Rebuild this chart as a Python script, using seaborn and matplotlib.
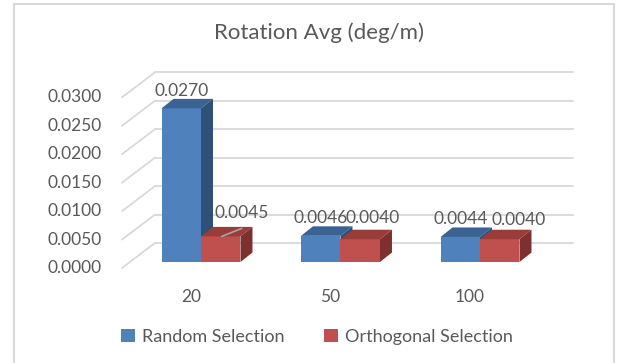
import numpy as np
import pandas as pd
import matplotlib
matplotlib.use("Agg")
import matplotlib.pyplot as plt
from matplotlib.patches import Polygon, Patch
import seaborn as sns

# ---- data ----
categories = ["20", "50", "100"]
series = ["Random Selection", "Orthogonal Selection"]
random_sel = [0.0270, 0.0046, 0.0044]
orthogonal_sel = [0.0045, 0.0040, 0.0040]
label_texts_random = ["0.0270", "0.0046", "0.0044"]
label_texts_orth = ["0.0045", "0.0040", "0.0040"]
y_ticks = [0.0, 0.005, 0.010, 0.015, 0.020, 0.025, 0.030]
y_tick_labels = ["0.0000", "0.0050", "0.0100", "0.0150", "0.0200", "0.0250", "0.0300"]
title = "Rotation Avg (deg/m)"

sns.set_theme(style="white")
plt.rcParams['font.family'] = ['Lato', 'DejaVu Sans']
TXT = "#595959"
GRID = "#d9d9d9"
front_cols = ["#4F81BD", "#C0504D"]
top_cols = ["#3A6394", "#9A3C3A"]
side_cols = ["#2F5079", "#7D302E"]

W, H = 617, 363
fig = plt.figure(figsize=(W / 100, H / 100), dpi=100)

# pixel geometry (layout only)
cat_px = 201.0      # x pixel of first category centre
cat_step = 139.5    # pixels per category
base_px = 262.0     # y pixel of bar bases
S = 5690.0          # pixels per value unit
L_px, R_px, T_px, B_px = 100, 600, 60, 280

ax = fig.add_axes([L_px / W, 1 - B_px / H, (R_px - L_px) / W, (B_px - T_px) / H])

def dx(px):
    return px / cat_step

def dy(px):
    return px / S

df = pd.DataFrame({
    "cat": categories * 2,
    "series": [series[0]] * 3 + [series[1]] * 3,
    "value": random_sel + orthogonal_sel,
})
sns.barplot(data=df, x="cat", y="value", hue="series", order=categories,
            hue_order=series, palette=front_cols, saturation=1, width=0.566,
            dodge=True, ax=ax, legend=False, linewidth=0, errorbar=None)
ax.set_xlim((L_px - cat_px) / cat_step, (R_px - cat_px) / cat_step)
ax.set_ylim((base_px - B_px) / S, (base_px - T_px) / S)
ax.axis("off")

# back wall gridlines + side wall diagonals
front_off = -6.0    # front axis plane offset (px, up)
wall_x0, wall_x1 = -0.33, 2.667
left_x = -0.566
for v in y_ticks:
    yb = v + dy(19)
    ax.plot([wall_x0, wall_x1], [yb, yb], color=GRID, lw=1.3, zorder=0.5)
    ax.plot([left_x, wall_x0], [v + dy(front_off), yb], color=GRID, lw=1.3, zorder=0.5)
for v, t in zip(y_ticks, y_tick_labels):
    ax.text(-0.71, v + dy(front_off), t, ha="right", va="center", fontsize=12.5, color=TXT)

# 3D faces
ddx, ddy = dx(12), dy(9.5)
bars = [p for p in ax.patches]
for k, p in enumerate(bars):
    s_idx = k // 3
    x0, w, h = p.get_x(), p.get_width(), p.get_height()
    z = 2 + s_idx
    p.set_zorder(z)
    top = Polygon([(x0, h), (x0 + w, h), (x0 + w + ddx, h + ddy), (x0 + ddx, h + ddy)],
                  closed=True, facecolor=top_cols[s_idx], edgecolor="none", zorder=z + 0.1)
    side = Polygon([(x0 + w, 0), (x0 + w, h), (x0 + w + ddx, h + ddy), (x0 + w + ddx, ddy)],
                   closed=True, facecolor=side_cols[s_idx], edgecolor="none", zorder=z + 0.1)
    ax.add_patch(top)
    ax.add_patch(side)

# data labels
lab_off_px = [(0, 8), (0, 8), (0, 8), (21, 14), (12, 11.5), (19, 10)]
all_labels = label_texts_random + label_texts_orth
for k, p in enumerate(bars):
    x0, w, h = p.get_x(), p.get_width(), p.get_height()
    ox, oy = lab_off_px[k]
    cx = x0 + w / 2 + dx(ox)
    cy = h + ddy + dy(oy)
    ax.text(cx, cy, all_labels[k], ha="center", va="center", fontsize=12.5, color=TXT, zorder=10)
    if k == 3:
        ax.plot([x0 + w / 2 + dx(1), x0 + w / 2 + dx(21)], [h, h + dy(8)],
                color="#a6a6a6", lw=1.2, zorder=10)

# category labels
for i, c in enumerate(categories):
    ax.text(i - dx(10), dy(base_px - 297), c, ha="center", va="center", fontsize=12.5, color=TXT)

# title
fig.text(319 / W, 1 - 33 / H, title, ha="center", va="center", fontsize=16, color=TXT)

# legend
handles = [Patch(facecolor=front_cols[i], edgecolor="none", label=series[i]) for i in range(2)]
fig.legend(handles=handles, loc="center", bbox_to_anchor=(317 / W, 1 - 337 / H), ncol=2,
           frameon=False, fontsize=13, handlelength=0.75, handleheight=0.75,
           handletextpad=0.4, columnspacing=2.2, labelcolor=TXT)

# chart frame
fr = plt.Rectangle((14 / W, -0.05), (614 - 14) / W, 1.05 - 4 / H, transform=fig.transFigure,
                   fill=False, edgecolor=GRID, lw=1.5)
fig.add_artist(fr)

fig.savefig("out.png", dpi=100, facecolor="white")
